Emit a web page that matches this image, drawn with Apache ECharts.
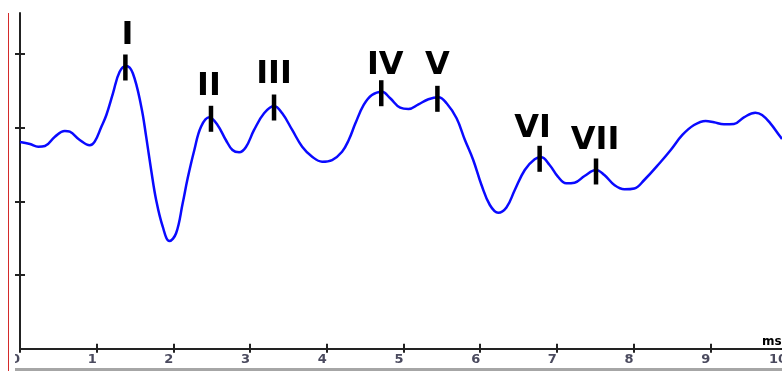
<!DOCTYPE html>
<html>
<head>
<meta charset="utf-8">
<script src="https://cdn.jsdelivr.net/npm/echarts@6/dist/echarts.min.js"></script>
<style>
  html, body { margin: 0; padding: 0; background: #fff; overflow: hidden; }
  #chart { width: 790px; height: 371px; }
</style>
</head>
<body>
<div id="chart"></div>
<script>
// ---- data (latency in ms, amplitude in axis units) ----
const latency = [0.000,0.130,0.238,0.325,0.455,0.584,0.649,0.779,0.909,0.974,1.061,1.126,1.212,1.299,1.386,1.471,1.581,1.645,1.710,1.775,1.861,1.948,2.035,2.121,2.186,2.273,2.360,2.468,2.575,2.684,2.770,2.857,2.944,3.052,3.182,3.312,3.419,3.549,3.679,3.809,3.939,4.069,4.199,4.286,4.373,4.481,4.588,4.718,4.827,4.957,5.065,5.195,5.325,5.455,5.562,5.692,5.801,5.909,6.017,6.126,6.234,6.342,6.451,6.581,6.710,6.796,6.905,7.013,7.121,7.230,7.360,7.510,7.619,7.749,7.879,8.009,8.139,8.355,8.484,8.636,8.788,8.939,9.048,9.178,9.308,9.438,9.588,9.675,9.783,9.896,9.935];
const amplitude = [2.805,2.777,2.741,2.750,2.877,2.954,2.944,2.832,2.760,2.809,3.012,3.171,3.465,3.758,3.836,3.737,3.284,2.877,2.425,2.018,1.655,1.461,1.566,1.973,2.312,2.696,3.012,3.140,3.035,2.832,2.696,2.665,2.733,2.968,3.194,3.293,3.194,2.968,2.741,2.605,2.537,2.560,2.673,2.832,3.058,3.307,3.442,3.487,3.398,3.270,3.252,3.316,3.384,3.411,3.330,3.126,2.832,2.561,2.221,1.950,1.845,1.916,2.153,2.425,2.570,2.597,2.493,2.334,2.244,2.252,2.343,2.425,2.357,2.221,2.163,2.174,2.289,2.537,2.696,2.900,3.035,3.090,3.072,3.045,3.049,3.140,3.202,3.171,3.058,2.900,2.845];
const peakNames = ['I','II','III','IV','V','VI','VII'];
const peakLatency = [1.374, 2.490, 3.312, 4.710, 5.442, 6.775, 7.510];
const peakAmplitude = [3.836, 3.140, 3.293, 3.487, 3.411, 2.597, 2.425];
const xTickValues = [0,1,2,3,4,5,6,7,8,9,10];
const yTickValues = [1,2,3,4];
const xUnit = 'ms';

// ---- styling ----
const labelNudge = [[2,-6],[-2,-6],[0,-7],[4,-2],[0,-7],[-7,-4],[-1,-5]];
const axisColor = '#222222';

const lineData = latency.map((x, i) => [x, amplitude[i]]);
const peakData = peakLatency.map((x, i) => ({
  value: [x, peakAmplitude[i]],
  name: peakNames[i],
  label: { offset: labelNudge[i] }
}));

const chart = echarts.init(document.getElementById('chart'), null, { renderer: 'canvas', width: 790, height: 371 });
const yBase = {
  type: 'value', min: 0, max: 4.555, position: 'left',
  splitLine: { show: false }, axisLabel: { show: false }
};
const xBase = {
  type: 'value', min: 0, max: 10, interval: 1, position: 'bottom',
  splitLine: { show: false }
};
chart.setOption({
  animation: false,
  backgroundColor: '#ffffff',
  grid: { left: 20, right: 0, top: 13, bottom: 22.3, containLabel: false },
  xAxis: [
    Object.assign({}, xBase, {
      axisLine: { show: true, lineStyle: { color: axisColor, width: 2 } },
      axisTick: { show: true, inside: false, length: 4, lineStyle: { color: axisColor, width: 2 }, customValues: xTickValues },
      axisLabel: {
        show: true, customValues: xTickValues, align: 'right', margin: 4,
        fontFamily: 'DejaVu Sans', fontSize: 13, fontWeight: 'bold', color: '#4a4a5e',
        formatter: v => String(v)
      },
      name: xUnit, nameLocation: 'end', nameGap: -25,
      nameTextStyle: { fontFamily: 'DejaVu Sans', fontSize: 12, fontWeight: 'bold', color: '#000', align: 'left', verticalAlign: 'bottom', lineHeight: 12, padding: [0, 0, 1, 0] }
    }),
    Object.assign({}, xBase, {
      axisLine: { show: false },
      axisTick: { show: true, inside: true, length: 5, lineStyle: { color: axisColor, width: 2 }, customValues: xTickValues },
      axisLabel: { show: false }
    })
  ],
  yAxis: [
    Object.assign({}, yBase, {
      axisLine: { show: true, lineStyle: { color: axisColor, width: 2 } },
      axisTick: { show: true, inside: false, length: 5, lineStyle: { color: axisColor, width: 2 }, customValues: yTickValues }
    }),
    Object.assign({}, yBase, {
      axisLine: { show: false },
      axisTick: { show: true, inside: true, length: 5, lineStyle: { color: axisColor, width: 2 }, customValues: yTickValues }
    })
  ],
  series: [
    {
      type: 'line', xAxisIndex: 0, yAxisIndex: 0, data: lineData,
      smooth: 0.4, showSymbol: false, symbol: 'none', clip: false,
      lineStyle: { color: '#0a0aff', width: 2.5 }, z: 2
    },
    {
      type: 'scatter', xAxisIndex: 0, yAxisIndex: 0, data: peakData,
      symbol: 'rect', symbolSize: [4.5, 26], symbolOffset: [0, 1.5],
      itemStyle: { color: '#000', opacity: 1 }, z: 3,
      label: {
        show: true, position: 'top', distance: 0,
        formatter: p => p.name,
        fontFamily: 'DejaVu Sans', fontWeight: 'bold', fontSize: 32, lineHeight: 26, color: '#000'
      }
    }
  ],
  graphic: [
    { type: 'line', shape: { x1: 8.5, y1: 13, x2: 8.5, y2: 371 }, style: { stroke: '#d42a2a', lineWidth: 1 }, z: 10 },
    { type: 'rect', shape: { x: 15, y: 368, width: 775, height: 3 }, style: { fill: '#a6a6a6' }, z: 10 },
    { type: 'rect', shape: { x: 9.5, y: 351, width: 5.5, height: 16 }, style: { fill: '#ffffff' }, z: 10 }
  ]
});
</script>
</body>
</html>
